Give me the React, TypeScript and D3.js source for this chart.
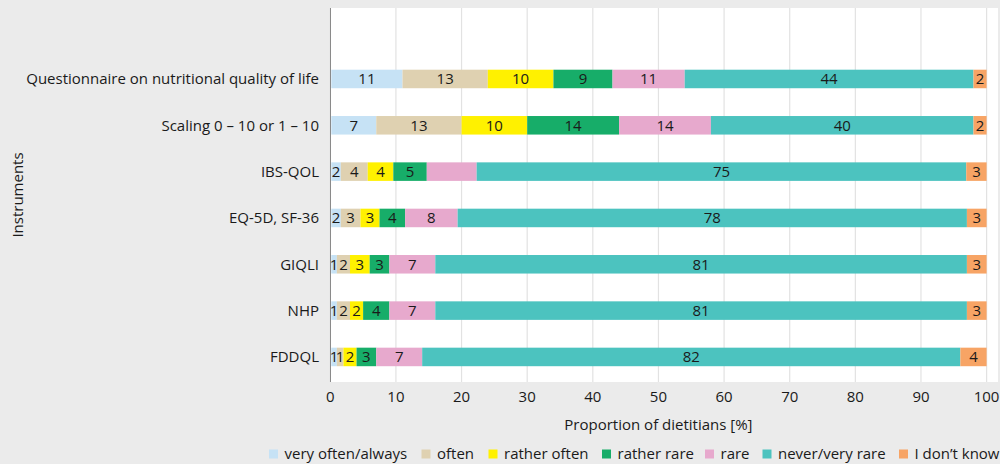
import React from "react";
import * as d3 from "d3";

const instruments = [
  "Questionnaire on nutritional quality of life",
  "Scaling 0 – 10 or 1 – 10",
  "IBS-QOL",
  "EQ-5D, SF-36",
  "GIQLI",
  "NHP",
  "FDDQL",
];
const categories = [
  "very often/always",
  "often",
  "rather often",
  "rather rare",
  "rare",
  "never/very rare",
  "I don’t know",
];
const colors = ["#c6e2f5", "#dfd1b1", "#fff100", "#17ad69", "#e7a9cd", "#4cc3bf", "#f7a465"];
// values per instrument in category order (%)
const qnqol = [11, 13, 10, 9, 11, 44, 2];
const scaling = [7, 13, 10, 14, 14, 40, 2];
const ibsqol = [1.6, 4.1, 3.9, 5.1, 7.6, 74.6, 3.1];
const eq5d = [1.6, 3, 2.9, 3.9, 8, 77.6, 3];
const giqli = [1, 2, 3, 3, 7, 81, 3];
const nhp = [1, 2, 2, 4, 7, 81, 3];
const fddql = [1, 1, 2, 3, 7, 82, 4];
const values = [qnqol, scaling, ibsqol, eq5d, giqli, nhp, fddql];
// labels not printed in the source figure
const hiddenLabels = [["IBS-QOL", "rare"]];
const xTicks = [0, 10, 20, 30, 40, 50, 60, 70, 80, 90, 100];

const W = 1000;
const H = 464;
const FONT = "'Open Sans', 'Noto Sans', sans-serif";

export default function App() {
  const panel = { left: 330, right: 998, top: 8, bottom: 382 };
  const x = d3.scaleLinear().domain([0, 100]).range([330.3, 986.6]);
  const y = d3
    .scaleBand<string>()
    .domain(instruments)
    .range([55.8, 380.1])
    .paddingInner(0.6)
    .paddingOuter(0.3);

  const rows = instruments.map((name, i) => {
    const stack = d3.cumsum(values[i]);
    return categories.map((cat, j) => {
      const x0 = j === 0 ? 0 : stack[j - 1];
      const x1 = stack[j];
      const hidden = hiddenLabels.some(([a, b]) => a === name && b === cat);
      return { name, cat, j, x0, x1, v: values[i][j], hidden };
    });
  });

  const legendX = [269, 421.5, 488.5, 602, 705, 762.5, 899];

  return (
    <svg width={W} height={H} style={{ position: "absolute", left: 0, top: 0, display: "block" }}>
      <rect x={0} y={0} width={W} height={H} fill="#ebebeb" />
      <rect
        x={panel.left}
        y={panel.top}
        width={panel.right - panel.left}
        height={panel.bottom - panel.top}
        fill="#ffffff"
      />
      {xTicks.map((t) => (
        <line
          key={"g" + t}
          x1={x(t)}
          x2={x(t)}
          y1={panel.top}
          y2={panel.bottom}
          stroke="#e2e2e2"
          strokeWidth={1.2}
        />
      ))}
      <line x1={330.5} x2={330.5} y1={panel.top} y2={panel.bottom} stroke="#8a8a8a" strokeWidth={1} />
      {rows.map((segs) =>
        segs.map((s) => (
          <rect
            key={s.name + s.cat}
            x={x(s.x0) + (s.j === 0 ? 1 : 0)}
            width={Math.max(0, x(s.x1) - x(s.x0) - (s.j === 0 ? 1 : 0))}
            y={y(s.name)!}
            height={y.bandwidth()}
            fill={colors[s.j]}
          />
        ))
      )}
      {rows.map((segs) =>
        segs.map((s) =>
          s.hidden ? null : (
            <text
              key={"t" + s.name + s.cat}
              x={(x(s.x0) + x(s.x1)) / 2 + (s.j === 0 ? 0.5 : 0)}
              y={y(s.name)! + y.bandwidth() / 2}
              dy="0.36em"
              textAnchor="middle"
              fontFamily={FONT}
              fontSize={15}
              fill="#1a1a1a"
            >
              {Math.round(s.v)}
            </text>
          )
        )
      )}
      {instruments.map((name) => (
        <text
          key={"y" + name}
          x={319}
          y={y(name)! + y.bandwidth() / 2}
          dy="0.36em"
          textAnchor="end"
          fontFamily={FONT}
          fontSize={15}
          fill="#1a1a1a"
        >
          {name}
        </text>
      ))}
      {xTicks.map((t) => (
        <text
          key={"x" + t}
          x={x(t)}
          y={397}
          dy="0.36em"
          textAnchor="middle"
          fontFamily={FONT}
          fontSize={15}
          fill="#1a1a1a"
        >
          {t}
        </text>
      ))}
      <text
        x={(x(0) + x(100)) / 2}
        y={425}
        dy="0.36em"
        textAnchor="middle"
        fontFamily={FONT}
        fontSize={15}
        fill="#1a1a1a"
      >
        Proportion of dietitians [%]
      </text>
      <text
        transform={`translate(18, ${(panel.top + panel.bottom) / 2}) rotate(-90)`}
        dy="0.36em"
        textAnchor="middle"
        fontFamily={FONT}
        fontSize={15}
        fill="#1a1a1a"
      >
        Instruments
      </text>
      {categories.map((c, j) => (
        <g key={"l" + c} transform={`translate(${legendX[j]}, 454)`}>
          <rect x={0} y={-4.5} width={9} height={9} fill={colors[j]} />
          <text x={15.5} y={0} dy="0.36em" fontFamily={FONT} fontSize={15} fill="#1a1a1a">
            {c}
          </text>
        </g>
      ))}
    </svg>
  );
}
